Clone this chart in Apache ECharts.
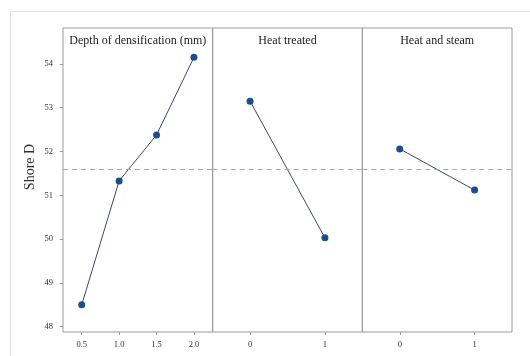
<!DOCTYPE html>
<html><head><meta charset="utf-8">
<script src="https://cdn.jsdelivr.net/npm/echarts@6/dist/echarts.min.js"></script>
<style>html,body{margin:0;padding:0;background:#fff}#c{width:530px;height:356px}</style>
</head><body><div id="c"></div>
<script>
const panelTitles = ['Depth of densification (mm)', 'Heat treated', 'Heat and steam'];
const depthLevels = ['0.5', '1.0', '1.5', '2.0'];
const depthMeans = [48.5, 51.33, 52.38, 54.15];
const heatLevels = ['0', '1'];
const heatMeans = [53.15, 50.03];
const steamLevels = ['0', '1'];
const steamMeans = [52.06, 51.12];
const overallMean = 51.6;
const yTicks = [48, 49, 50, 51, 52, 53, 54];
const yName = 'Shore D';

const FONT = '"Liberation Serif", "DejaVu Serif", serif';
const levels = [depthLevels, heatLevels, steamLevels];
const means = [depthMeans, heatMeans, steamMeans];
const L = 63, R = 512, T = 28, B = 332;
const W = (R - L) / 3;

const grids = [], xAxes = [], yAxes = [], series = [], titles = [];
for (let i = 0; i < 3; i++) {
  grids.push({left: L + i * W, top: T, width: W, height: B - T, show: true,
    borderColor: '#9a9a9a', borderWidth: 1, backgroundColor: 'transparent'});
  xAxes.push({type: 'category', gridIndex: i, data: levels[i], boundaryGap: true,
    axisLine: {show: false}, axisTick: {show: true, alignWithLabel: true, length: 3, lineStyle: {color: '#9a9a9a'}},
    axisLabel: {fontFamily: FONT, fontSize: 8.5, color: '#333', margin: 8}, splitLine: {show: false}});
  yAxes.push({type: 'value', gridIndex: i, min: 47.88, max: 54.82,
    axisLine: {show: false},
    axisTick: {show: i === 0, length: 3, lineStyle: {color: '#9a9a9a'}, customValues: yTicks},
    axisLabel: {show: i === 0, fontFamily: FONT, fontSize: 8.5, color: '#333', margin: 10, customValues: yTicks},
    splitLine: {show: false}});
  series.push({type: 'line', xAxisIndex: i, yAxisIndex: i, data: means[i],
    symbol: 'circle', symbolSize: 7,
    itemStyle: {color: '#1c4d8e'}, lineStyle: {color: '#3f4a60', width: 1},
    animation: false,
    markLine: {silent: true, symbol: 'none', label: {show: false},
      lineStyle: {color: '#a8a8a8', type: [5, 4], width: 1.2}, data: [{yAxis: overallMean}]}});
  titles.push({text: panelTitles[i], left: L + i * W + W / 2, top: 35, padding: 0, textAlign: 'center',
    textStyle: {fontFamily: FONT, fontSize: 12, fontWeight: 'normal', color: '#222'}});
}

const chart = echarts.init(document.getElementById('c'));
chart.setOption({
  animation: false,
  title: titles,
  grid: grids, xAxis: xAxes, yAxis: yAxes, series: series,
  graphic: [
    {type: 'rect', shape: {x: 10.5, y: 11.5, width: 530, height: 360}, style: {fill: 'none', stroke: '#e2e2e2', lineWidth: 1}, silent: true},
    {type: 'text', x: 30, y: 167, rotation: Math.PI / 2,
      style: {text: yName, font: '14px "Liberation Serif", serif', fill: '#333', align: 'center', verticalAlign: 'middle'}}
  ]
});
</script></body></html>
